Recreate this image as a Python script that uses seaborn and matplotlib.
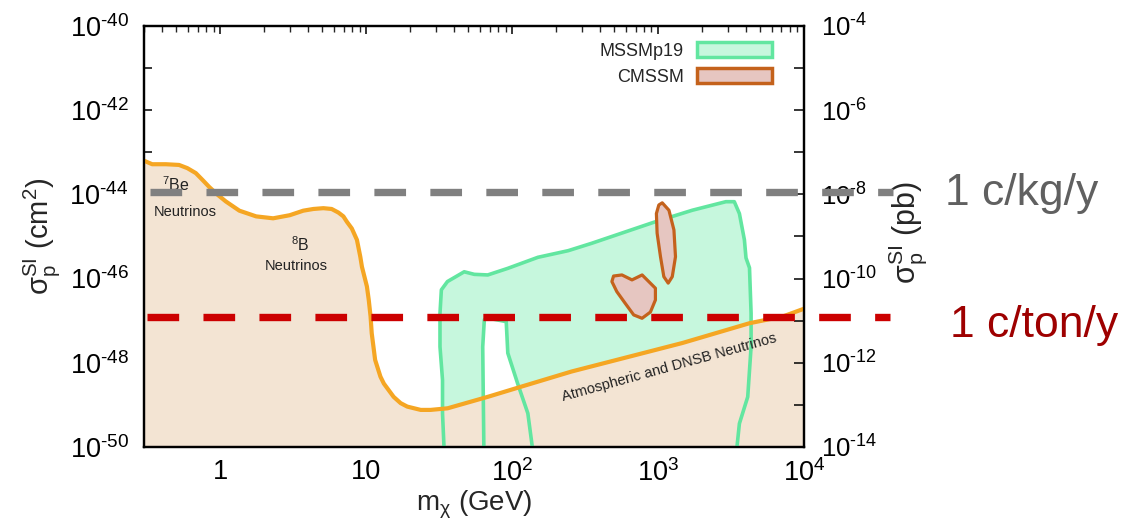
import numpy as np
import pandas as pd
import seaborn as sns
import matplotlib
matplotlib.use('Agg')
import matplotlib.pyplot as plt
import matplotlib.transforms as mtransforms
from matplotlib.patches import Patch
from matplotlib.ticker import FixedLocator, NullLocator, LogLocator

# neutrino floor (mass in GeV, cross section in cm^2)
floor_mass = [0.30, 0.341, 0.423, 0.521, 0.594, 0.679, 0.755, 0.839, 0.958, 1.09, 1.35, 1.76,
              2.30, 2.99, 3.70, 4.34, 5.08, 5.79, 6.44, 6.97, 7.36, 7.96, 8.63, 9.10, 9.34, 9.84,
              10.1, 10.4, 10.7, 10.9, 11.2, 11.5, 12.5, 13.2, 15.4, 17.2, 19.1, 23.6, 27.6, 36.1,
              67.9, 115, 255, 1466, 4227, 7161, 10300]
floor_sigma = [6.3e-44, 5.2e-44, 5.2e-44, 5.0e-44, 4.2e-44, 3.2e-44, 2.2e-44, 1.5e-44, 9.8e-45,
               6.8e-45, 4.1e-45, 3.0e-45, 2.7e-45, 3.2e-45, 4.1e-45, 4.5e-45, 4.7e-45, 4.5e-45,
               3.7e-45, 3.0e-45, 2.24e-45, 1.55e-45, 8.3e-46, 3.3e-46, 1.9e-46, 9.3e-47, 6.5e-47,
               3.1e-47, 1.26e-47, 5.0e-48, 2.4e-48, 1.17e-48, 4.7e-49, 3.2e-49, 1.55e-49, 1.1e-49,
               9.1e-50, 7.6e-50, 7.6e-50, 8.3e-50, 1.55e-49, 2.7e-49, 6.2e-49, 2.95e-48, 8.7e-48,
               1.26e-47, 2.0e-47]

# MSSMp19 region outline
mssm_mass = [35.1, 33.3, 33.3, 32.0, 32.0, 32.7, 36.0, 46.9, 55.0, 68.0, 93.3, 150, 242, 351,
             958, 1715, 2912, 3326, 3605, 3901, 4000, 4227, 4335, 4335, 4111, 3605, 3236,
             150, 128, 109, 93.3, 91, 68, 64.4, 62.8, 64.4]
mssm_sigma = [1e-51, 6.3e-50, 3.9e-49, 2.4e-48, 1.5e-47, 5.4e-47, 8.5e-47, 1.45e-46, 1.26e-46,
              1.22e-46, 1.75e-46, 3.2e-46, 4.6e-46, 6.9e-46, 2.24e-45, 4.2e-45, 6.7e-45, 6.7e-45,
              3.5e-45, 8.3e-46, 3.1e-46, 1.8e-46, 1.5e-47, 2.4e-48, 1.55e-49, 3.6e-50, 1e-51,
              1e-51, 6.3e-50, 3.2e-49, 1.7e-48, 9.5e-48, 1.15e-47, 1.05e-47, 2.4e-48, 1e-51]

# CMSSM islands
cmssm_a_mass = [1067, 1186, 1283, 1315, 1250, 1172, 1094, 1038, 984, 973, 1011]
cmssm_a_sigma = [6.3e-45, 4.2e-45, 1.43e-45, 3.3e-46, 1.11e-46, 7.8e-47, 1.11e-46, 3.3e-46,
                 1.2e-45, 3.5e-45, 5.6e-45]
cmssm_b_mass = [495, 565, 662, 777, 840, 958, 958, 885, 776, 680, 594, 521, 482]
cmssm_b_sigma = [1.15e-46, 1.22e-46, 9.3e-47, 1.22e-46, 9.3e-47, 5.9e-47, 3.1e-47, 1.6e-47,
                 1.14e-47, 1.37e-47, 2.6e-47, 4.9e-47, 8.5e-47]

# event rate levels (cm^2)
kg_rate = 1.17e-44
ton_rate = 1.2e-47

x_ticks = [1, 10, 100, 1000, 10000]
x_labels = ['1', '10', '$10^2$', '$10^3$', '$10^4$']
y_ticks = [10.0 ** e for e in range(-50, -39)]
y_labels = ['$10^{\u2010%d}$' % -e if e % 2 == 0 else '' for e in range(-50, -39)]
y2_ticks = [10.0 ** e for e in range(-14, -3)]
y2_labels = ['$10^{\u2010%d}$' % -e if e % 2 == 0 else '' for e in range(-14, -3)]

sns.set_theme(style='white')
plt.rcParams['font.family'] = ['Liberation Sans', 'DejaVu Sans']
plt.rcParams['mathtext.default'] = 'regular'
plt.rcParams['lines.scale_dashes'] = False

green_fill, green_edge = '#c6f7dd', '#62e6a0'
pink_fill, brown_edge = '#e6c6c1', '#c4621c'
beige, orange = '#f3e4d3', '#f5a623'

fig = plt.figure(figsize=(11.36, 5.32), dpi=100)
ax = fig.add_axes([0.1268, 0.1598, 0.5810, 0.7914])
ax.set_xscale('log')
ax.set_yscale('log')
ax.set_xlim(0.3, 1e4)
ax.set_ylim(1e-50, 1e-40)

floor = pd.DataFrame({'mass': floor_mass, 'sigma': floor_sigma})

ax.fill(mssm_mass, mssm_sigma, color=green_fill, lw=0, zorder=1)
ax.fill_between(floor_mass, floor_sigma, 1e-51, color=beige, lw=0, zorder=2)
ax.fill(mssm_mass, mssm_sigma, facecolor='none', edgecolor=green_edge, lw=2.6, zorder=3,
        joinstyle='round')
sns.lineplot(data=floor, x='mass', y='sigma', sort=False, estimator=None, color=orange,
             lw=3, ax=ax, zorder=4, solid_joinstyle='round')
ax.fill(cmssm_a_mass, cmssm_a_sigma, facecolor=pink_fill, edgecolor=brown_edge, lw=2.3, zorder=5,
        joinstyle='round')
ax.fill(cmssm_b_mass, cmssm_b_sigma, facecolor=pink_fill, edgecolor=brown_edge, lw=2.3, zorder=5,
        joinstyle='round')

ax.text(0.398, 1.2e-44, '$^{7}$Be', fontsize=11.5, ha='left', va='baseline', color='#222222', zorder=4)
ax.text(0.351, 3.1e-45, 'Neutrinos', fontsize=10.5, ha='left', va='baseline', color='#222222', zorder=4)
ax.text(3.07, 4.4e-46, '$^{8}$B', fontsize=11.5, ha='left', va='baseline', color='#222222', zorder=4)
ax.text(3.29, 1.58e-46, 'Neutrinos', fontsize=10.5, ha='center', va='baseline', color='#222222', zorder=4)
ax.text(1186, 7.8e-49, 'Atmospheric and DNSB Neutrinos', fontsize=10.5, ha='center', va='center',
        rotation=15.5, rotation_mode='anchor', color='#222222', zorder=4)

ax.xaxis.set_major_locator(FixedLocator(x_ticks))
ax.set_xticklabels(x_labels)
ax.xaxis.set_minor_locator(LogLocator(base=10, subs=np.arange(2, 10), numticks=20))
ax.yaxis.set_major_locator(FixedLocator(y_ticks))
ax.set_yticklabels(y_labels)
ax.yaxis.set_minor_locator(NullLocator())
ax.tick_params(axis='x', which='major', direction='in', length=6, width=1.1, top=True,
               labelsize=19.5, pad=9, colors='black')
ax.tick_params(axis='x', which='minor', direction='in', length=4, width=1.0, top=True, bottom=True)
ax.tick_params(axis='y', which='major', direction='in', length=6, width=1.1, right=False,
               labelsize=19.5, pad=11, colors='black')

ax.set_xlabel('m$_χ$ (GeV)', fontsize=20)
ax.xaxis.set_label_coords(0.5, -0.1)
ax.set_ylabel('$σ_p^{SI}$ (cm$^2$)', fontsize=21)
ax.yaxis.set_label_coords(-0.124, 0.5)

ax2 = ax.twinx()
ax2.set_yscale('log')
ax2.set_ylim(1e-14, 1e-4)
ax2.yaxis.set_major_locator(FixedLocator(y2_ticks))
ax2.set_yticklabels(y2_labels)
ax2.yaxis.set_minor_locator(NullLocator())
ax2.tick_params(axis='y', which='major', direction='in', length=7, width=1.1, labelsize=18.5,
                pad=12, colors='black')
ax2.set_ylabel('$σ_p^{SI}$ (pb)', fontsize=22)
ax2.yaxis.set_label_coords(1.125, 0.51)
ax2.grid(False)
ax.grid(False)

for a in (ax, ax2):
    for s in a.spines.values():
        s.set_color('black')
        s.set_linewidth(1.6)

trans = mtransforms.blended_transform_factory(ax.transAxes, ax.transData)
ax2.plot([0.0091, 1.1348], [kg_rate, kg_rate], transform=trans, clip_on=False,
         color='#808080', lw=5.3, dashes=(22.8, 17.5), solid_capstyle='butt', zorder=6)
ax2.plot([0.005, 1.1303], [ton_rate, ton_rate], transform=trans, clip_on=False,
         color='#cc0000', lw=5.3, dashes=(22.8, 17.5), solid_capstyle='butt', zorder=6)

ax2.text(1.214, 0.575, '1 c/kg/y', transform=ax.transAxes, fontsize=32, color='#606060',
         ha='left', va='baseline')
ax2.text(1.221, 0.261, '1 c/ton/y', transform=ax.transAxes, fontsize=32, color='#9e0000',
         ha='left', va='baseline')

handles = [Patch(facecolor=green_fill, edgecolor=green_edge, lw=2.5, label='MSSMp19'),
           Patch(facecolor=pink_fill, edgecolor=brown_edge, lw=2.5, label='CMSSM')]
ax2.legend(handles=handles, loc='upper right', bbox_to_anchor=(0.952, 0.962), frameon=False,
           markerfirst=False, handlelength=4.2, handleheight=0.9, fontsize=13,
           labelspacing=0.45, borderaxespad=0, borderpad=0, handletextpad=0.7)

fig.savefig('out.png', dpi=100)
